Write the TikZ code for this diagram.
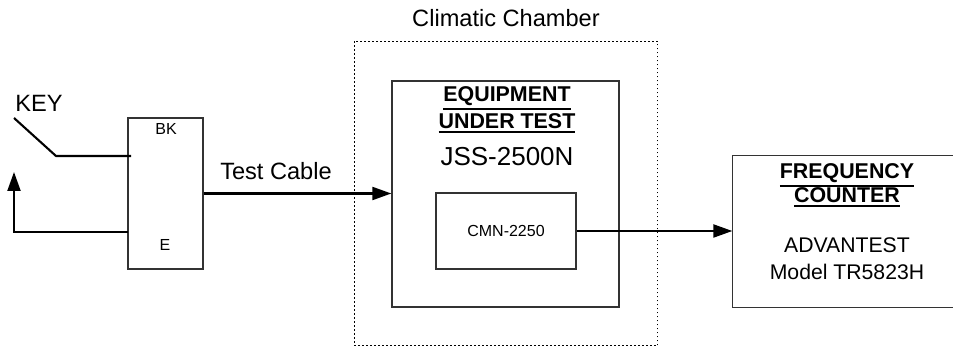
\documentclass[tikz,border=0pt]{standalone}
\usepackage{fontspec}
\setmainfont{Liberation Sans}
\usetikzlibrary{arrows.meta}
\newcommand\myul[1]{\vtop{\hbox{#1}\kern0.9pt\hrule height 0.75pt}}
\tikzset{
  box/.style={draw=black!80, line width=0.65pt, rectangle, inner sep=0pt},
  conn/.style={draw=black, line width=1.05pt},
  arr/.style={conn, -{Triangle[length=9.5pt,width=6.5pt]}},
  lbl/.style={anchor=base, inner sep=0pt},
  fbig/.style={font=\fontsize{11.8}{14}\selectfont},
  fsmall/.style={font=\fontsize{8}{10}\selectfont},
  fbold/.style={font=\fontsize{10.7}{13}\selectfont\bfseries},
  fmid/.style={font=\fontsize{10.6}{13}\selectfont},
  fjss/.style={font=\fontsize{13}{15}\selectfont},
}
\begin{document}
\begin{tikzpicture}[x=0.5pt,y=-0.5pt]
\useasboundingbox (0,0) rectangle (953,347);
% boxes
\node[box, draw=none, minimum width=151pt, minimum height=151.5pt] (chamber) at (506,193.5) {};
\draw[line width=0.8pt, dash pattern=on 0.8pt off 1.2pt] (chamber.north west) rectangle (chamber.south east);
\node[box, minimum width=37.5pt, minimum height=75.5pt] (bke) at (165.5,193.5) {};
\node[box, minimum width=113.5pt, minimum height=113pt] (eut) at (505.5,194) {};
\node[box, minimum width=70pt, minimum height=38pt] (cmn) at (506,231) {};
\node[box, draw=none, minimum width=110pt, minimum height=75.5pt] (fc) at (843,231.5) {};
\draw[black!80, line width=0.65pt] (fc.north east) -- (fc.north west) -- (fc.south west) -- (fc.south east);
% texts
\node[lbl, fbig] (chamtxt) at (506,27) {Climatic Chamber};
\node[lbl, fbig, anchor=base west] (key) at (15,112) {KEY};
\node[lbl, fbig] (cable) at (276,180) {Test Cable};
\node[lbl, fsmall] (bk) at (166,135) {BK};
\node[lbl, fsmall] (e) at (165,251) {E};
\node[lbl, fbold] (eq1) at (507,102) {\myul{EQUIPMENT}};
\node[lbl, fbold] (eq2) at (507,129) {\myul{UNDER TEST}};
\node[lbl, fjss] (jss) at (507,166) {JSS-2500N};
\node[lbl, fsmall] (cmntxt) at (506,237) {CMN-2250};
\node[lbl, fbold] (fc1) at (847,179) {\myul{FREQUENCY}};
\node[lbl, fbold] (fc2) at (847,203) {\myul{COUNTER}};
\node[lbl, fmid] (fc3) at (847,253) {ADVANTEST};
\node[lbl, fmid] (fc4) at (847,280) {Model TR5823H};
% connectors
\coordinate (ktop) at (14,118);
\coordinate (kbend) at (56,156);
\coordinate (kport) at (131,156);
\draw[conn] (ktop) -- (kbend) -- (kport);
\coordinate (eport) at (128,232);
\coordinate (rtip) at (14,172);
\draw[arr] (eport) -| (rtip);
\draw[arr] (bke.east) -- (bke.east -| eut.west);
\draw[arr] (cmn.east) -- (cmn.east -| fc.west);
\end{tikzpicture}
\end{document}
